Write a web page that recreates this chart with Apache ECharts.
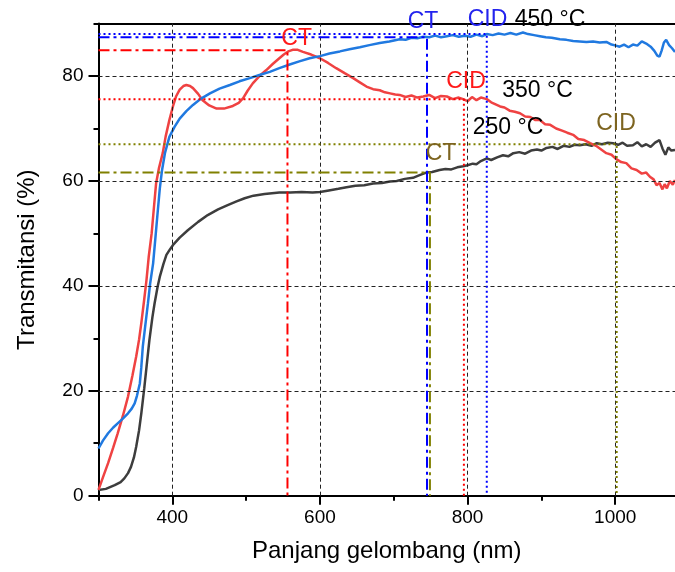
<!DOCTYPE html>
<html>
<head>
<meta charset="utf-8">
<script src="https://cdn.jsdelivr.net/npm/echarts@6/dist/echarts.min.js"></script>
<style>
  html, body { margin: 0; padding: 0; background: #ffffff; }
  #chart { width: 675px; height: 572px; }
</style>
</head>
<body>
<div id="chart"></div>
<script>
// Transmittance spectra [wavelength (nm), T (%)] for three annealing temperatures
const curve250 = [[300,1.1],[310,1.3],[322,2.0],[330,2.6],[335,3.3],[340,4.3],[344,5.5],[348,7.3],[351,9.3],[355,12.5],[358,15.7],[362,20.5],[366,25.8],[369,29.7],[373,34.0],[376,36.7],[380,39.8],[383,41.7],[388,44.2],[392,45.9],[397,47.0],[401,47.8],[410,49.2],[421,50.6],[435,52.2],[448,53.5],[462,54.6],[475,55.4],[487,56.1],[498,56.7],[510,57.2],[525,57.5],[545,57.8],[560,57.8],[575,57.9],[590,57.8],[600,57.9],[612,58.2],[625,58.5],[636,58.8],[648,59.1],[660,59.2],[672,59.5],[684,59.6],[695,59.9],[704,60.0],[715,60.4],[726,60.6],[735,61.1],[744,61.6],[752,61.7],[762,62.1],[770,62.3],[778,62.2],[786,62.6],[794,62.8],[800,63.0],[807,63.3],[812,63.2],[818,63.8],[826,64.3],[832,64.0],[840,64.5],[848,64.9],[855,64.7],[862,65.3],[870,65.5],[878,65.2],[886,65.8],[894,66.0],[900,65.8],[907,66.3],[915,66.5],[922,66.1],[930,66.7],[938,66.5],[945,66.9],[952,66.8],[960,67.0],[968,66.7],[975,67.2],[982,67.0],[990,67.3],[997,67.2],[1004,66.9],[1010,67.3],[1016,66.7],[1024,66.8],[1030,67.4],[1036,66.6],[1042,67.0],[1048,66.5],[1054,67.3],[1060,67.8],[1064,66.2],[1068,65.0],[1072,66.4],[1076,65.8],[1081,65.9]];
const curve350 = [[300,1.1],[306,3.5],[313,6.2],[320,9.2],[326,11.9],[333,15.2],[340,18.9],[346,22.9],[351,26.5],[355,29.8],[358,32.9],[362,37.5],[365,41.1],[368,45.5],[372,50.0],[375,54.8],[378,59.5],[382,62.5],[387,65.3],[391,68.5],[396,71.6],[401,74.3],[405,76.1],[410,77.4],[415,78.1],[419,78.3],[424,78.1],[428,77.7],[435,76.6],[441,75.4],[450,74.4],[460,73.8],[470,73.8],[482,74.3],[490,74.9],[496,75.8],[502,77.2],[509,78.6],[518,80.0],[527,81.1],[536,82.3],[545,83.4],[551,84.1],[557,84.7],[563,85.0],[570,85.0],[577,84.6],[588,84.1],[600,83.4],[611,82.5],[622,81.5],[634,80.5],[645,79.6],[654,78.8],[663,78.0],[672,77.5],[681,77.3],[688,76.9],[695,76.7],[702,76.5],[708,76.4],[716,76.0],[724,76.3],[732,75.9],[740,76.1],[748,76.4],[756,75.8],[764,76.2],[772,76.1],[780,75.6],[788,75.9],[794,75.6],[800,75.2],[806,76.0],[812,75.4],[818,75.9],[826,75.6],[832,75.0],[838,74.6],[844,74.2],[850,74.0],[857,73.4],[864,73.2],[871,72.9],[878,72.3],[885,72.2],[892,71.6],[898,71.6],[905,70.8],[912,70.7],[920,70.0],[928,69.6],[935,69.2],[943,68.8],[950,68.0],[958,67.8],[966,67.2],[974,66.7],[981,66.0],[988,65.3],[995,65.0],[1001,64.2],[1008,63.6],[1015,63.4],[1022,62.4],[1029,62.1],[1036,61.4],[1042,61.6],[1047,60.8],[1052,60.3],[1056,59.2],[1060,59.6],[1064,58.4],[1067,59.4],[1070,58.6],[1074,60.0],[1078,59.3],[1081,60.2]];
const curve450 = [[300,9.0],[306,10.5],[313,11.9],[320,13.0],[326,13.8],[333,14.7],[340,15.7],[345,16.6],[349,17.6],[352,19.0],[356,21.4],[358,24.5],[360,28.4],[363,32.0],[367,36.7],[370,40.5],[374,44.3],[377,49.0],[380,53.8],[383,58.5],[386,62.0],[390,65.3],[396,68.4],[403,70.3],[410,71.9],[419,73.3],[428,74.5],[439,75.7],[451,76.7],[464,77.6],[478,78.3],[491,79.0],[505,79.6],[518,80.2],[532,80.8],[545,81.5],[559,82.2],[572,82.8],[586,83.4],[600,83.8],[613,84.3],[627,84.7],[640,85.1],[654,85.5],[667,85.9],[681,86.3],[694,86.6],[708,87.0],[716,86.9],[724,87.3],[732,87.2],[740,87.5],[748,87.4],[756,87.7],[764,87.4],[772,87.6],[780,87.8],[788,87.5],[796,87.7],[804,87.5],[812,87.9],[820,87.6],[826,88.0],[834,87.8],[842,88.1],[850,87.9],[858,88.2],[866,87.9],[875,88.3],[882,88.0],[890,87.8],[898,87.6],[906,87.4],[914,87.3],[925,87.0],[934,86.9],[943,86.7],[952,86.6],[961,86.5],[970,86.6],[979,86.4],[988,86.5],[995,86.0],[1001,85.8],[1006,85.6],[1012,86.0],[1018,85.5],[1024,86.0],[1030,85.8],[1036,86.6],[1042,86.2],[1048,85.6],[1053,84.8],[1057,83.9],[1060,83.7],[1063,84.9],[1066,86.4],[1069,86.9],[1073,85.9],[1077,85.3],[1081,84.6]];

// CT / CID marker points per temperature (order: 250, 350, 450 °C)
const tempLabels    = ['250 °C', '350 °C', '450 °C'];
const ctWavelength  = [749, 556, 745];
const ctTransmit    = [61.6, 84.9, 87.4];
const cidWavelength = [1002, 795, 826];
const cidTransmit   = [67.0, 75.6, 88.0];

// Axis ticks
const xMajorTicks = [400, 600, 800, 1000];
const xMinorTicks = [300, 500, 700, 900];
const yMajorTicks = [0, 20, 40, 60, 80];
const yMinorTicks = [10, 30, 50, 70, 90];
const xRange = [300, 1081];
const yRange = [0, 90];

const FONT = 'Liberation Sans, Arial, sans-serif';
const curveColors  = ['#3d3d3d', '#ef4242', '#2079e0'];
const markerColors = ['#808000', '#ff0000', '#0000ff'];
const textColors   = ['#7d6420', '#ff1a1a', '#2323ee'];

const chart = echarts.init(document.getElementById('chart'), null, { renderer: 'canvas' });

// L-shaped guide: horizontal from the y axis to the point, then down to the x axis
function guide(name, x, y, color, dash) {
  return {
    name: name, type: 'line', xAxisIndex: 0, yAxisIndex: 0,
    data: [[xRange[0], y], [x, y], [x, yRange[0]]],
    showSymbol: false, symbol: 'none', silent: true, z: 5,
    lineStyle: { color: color, width: 2, type: dash }
  };
}

const series = [];
// gridlines
series.push({
  type: 'line', data: [], silent: true, z: 1,
  markLine: {
    silent: true, symbol: 'none', label: { show: false }, animation: false,
    lineStyle: { color: '#222', width: 1, type: [4, 3] },
    data: xMajorTicks.map(v => ({ xAxis: v })).concat(yMajorTicks.filter(v => v > 0).map(v => ({ yAxis: v })))
  }
});
[curve250, curve350, curve450].forEach((c, i) => {
  series.push({
    name: tempLabels[i], type: 'line', data: c, showSymbol: false, symbol: 'none',
    z: 3, lineStyle: { color: curveColors[i], width: 2.5 }
  });
});
for (let i = 0; i < 3; i++) {
  series.push(guide('CT ' + tempLabels[i], ctWavelength[i], ctTransmit[i], markerColors[i], [11, 4, 3, 4]));
  series.push(guide('CID ' + tempLabels[i], cidWavelength[i], cidTransmit[i], markerColors[i], [2, 3]));
}

// annotation texts
const notes = [
  { text: 'CT',     color: textColors[2], x: 423,   y: 21.5 },
  { text: 'CID',    color: textColors[2], x: 487.5, y: 20 },
  { text: '450 °C', color: '#000',        x: 550,   y: 20 },
  { text: 'CT',     color: textColors[1], x: 296.7, y: 39 },
  { text: 'CID',    color: textColors[1], x: 466,   y: 82 },
  { text: '350 °C', color: '#000',        x: 537.5, y: 91 },
  { text: '250 °C', color: '#000',        x: 508,   y: 128 },
  { text: 'CID',    color: textColors[0], x: 616,   y: 124 },
  { text: 'CT',     color: textColors[0], x: 441,   y: 153.5 }
];

const axisBlack = { show: true, lineStyle: { color: '#000', width: 2 } };
const plainNumber = v => String(v);

chart.setOption({
  animation: false,
  backgroundColor: '#ffffff',
  grid: { left: 98.5, right: 0, top: 23.6, bottom: 76.3, containLabel: false },
  xAxis: [
    {
      type: 'value', min: xRange[0], max: xRange[1], position: 'bottom',
      name: 'Panjang gelombang (nm)', nameLocation: 'middle', nameGap: 44,
      nameTextStyle: { fontFamily: FONT, fontSize: 24, color: '#000' },
      axisLine: axisBlack,
      axisTick: { show: true, inside: false, length: 9, customValues: xMajorTicks, lineStyle: { color: '#000', width: 2 } },
      axisLabel: { show: true, customValues: xMajorTicks, formatter: plainNumber, margin: 13, fontFamily: FONT, fontSize: 19, color: '#000' },
      splitLine: { show: false }
    },
    {
      type: 'value', min: xRange[0], max: xRange[1], position: 'bottom',
      axisLine: { show: false },
      axisTick: { show: true, inside: false, length: 5, customValues: xMinorTicks, lineStyle: { color: '#000', width: 2 } },
      axisLabel: { show: false },
      splitLine: { show: false }
    },
    {
      type: 'value', min: xRange[0], max: xRange[1], position: 'top',
      axisLine: axisBlack, axisTick: { show: false }, axisLabel: { show: false }, splitLine: { show: false }
    }
  ],
  yAxis: [
    {
      type: 'value', min: yRange[0], max: yRange[1], position: 'left',
      name: 'Transmitansi (%)', nameLocation: 'middle', nameGap: 59,
      nameTextStyle: { fontFamily: FONT, fontSize: 24, color: '#000' },
      axisLine: axisBlack,
      axisTick: { show: true, inside: false, length: 10, customValues: yMajorTicks, lineStyle: { color: '#000', width: 2 } },
      axisLabel: { show: true, customValues: yMajorTicks, formatter: plainNumber, margin: 15, fontFamily: FONT, fontSize: 19, color: '#000' },
      splitLine: { show: false }
    },
    {
      type: 'value', min: yRange[0], max: yRange[1], position: 'left',
      axisLine: { show: false },
      axisTick: { show: true, inside: false, length: 5, customValues: yMinorTicks, lineStyle: { color: '#000', width: 2 } },
      axisLabel: { show: false },
      splitLine: { show: false }
    }
  ],
  graphic: notes.map(n => ({
    type: 'text', x: n.x, y: n.y, z: 100, silent: true,
    style: { text: n.text, fill: n.color, font: '23px ' + FONT, textAlign: 'center', textVerticalAlign: 'middle' }
  })),
  series: series
});
</script>
</body>
</html>
